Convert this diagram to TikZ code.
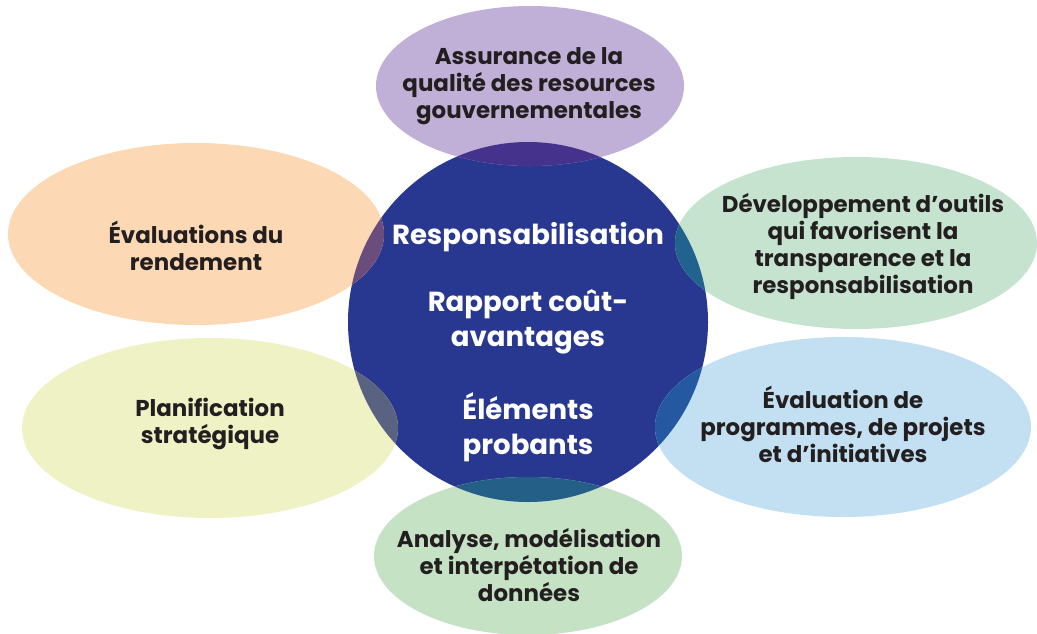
\documentclass[tikz,border=0pt]{standalone}
\usepackage{fontspec}
\setmainfont{Poppins}
\definecolor{hubblue}{HTML}{283891}
\definecolor{inkdark}{HTML}{231F20}
\definecolor{lilac}{HTML}{C0AFD6}
\definecolor{lilacdark}{HTML}{44328C}
\definecolor{peach}{HTML}{FCD9B4}
\definecolor{peachdark}{HTML}{6A4D7C}
\definecolor{mint}{HTML}{C5E3CF}
\definecolor{mintdark}{HTML}{22628E}
\definecolor{lime}{HTML}{EFF2C4}
\definecolor{limedark}{HTML}{5A6282}
\definecolor{sky}{HTML}{C3DFF2}
\definecolor{skydark}{HTML}{2459A2}
\definecolor{sage}{HTML}{C6E2C4}
\definecolor{sagedark}{HTML}{235F86}
\begin{document}
\begin{tikzpicture}[x=0.025cm,y=-0.025cm,
    petal/.style={align=center,text=inkdark,
      font=\bfseries\fontsize{16.3}{19.2}\selectfont},
    hub/.style={align=center,text=white,
      font=\bfseries\fontsize{19.6}{24.5}\selectfont}]
  \useasboundingbox (0,0) rectangle (1037,633);
  % central disc
  \fill[hubblue] (528,322) circle [radius=180];
  % petals and their overlap with the disc
  \foreach \cx/\cy/\rx/\ry/\light/\dark in {
      530/86/154/80/lilac/lilacdark,
      196/234/188/91/peach/peachdark,
      856/243/181/86/mint/mintdark,
      210/428/188/90/lime/limedark,
      843/427/188/90/sky/skydark,
      528/556/154/79/sage/sagedark}
  {
    \fill[\light] (\cx,\cy) ellipse [x radius=\rx, y radius=\ry];
    \begin{scope}
      \clip (528,322) circle [radius=180];
      \fill[\dark] (\cx,\cy) ellipse [x radius=\rx, y radius=\ry];
    \end{scope}
  }
  % labels
  \node[hub] (resp) at (528,237) {Responsabilisation};
  \node[hub] (rapport) at (528,322) {Rapport coût-\\avantages};
  \node[hub] (elements) at (528,427) {Éléments\\probants};
  \node[petal] (qualite) at (529,86) {Assurance de la\\qualité des resources\\gouvernementales};
  \node[petal] (rendement) at (196,246) {Évaluations du\\rendement};
  \node[petal] (outils) at (863,246) {Développement d’outils\\qui favorisent la\\transparence et la\\responsabilisation};
  \node[petal] (planif) at (210,424) {Planification\\stratégique};
  \node[petal] (programmes) at (843,424) {Évaluation de\\programmes, de projets\\et d’initiatives};
  \node[petal] (donnees) at (529,565) {Analyse, modélisation\\et interpétation de\\données};
\end{tikzpicture}
\end{document}
